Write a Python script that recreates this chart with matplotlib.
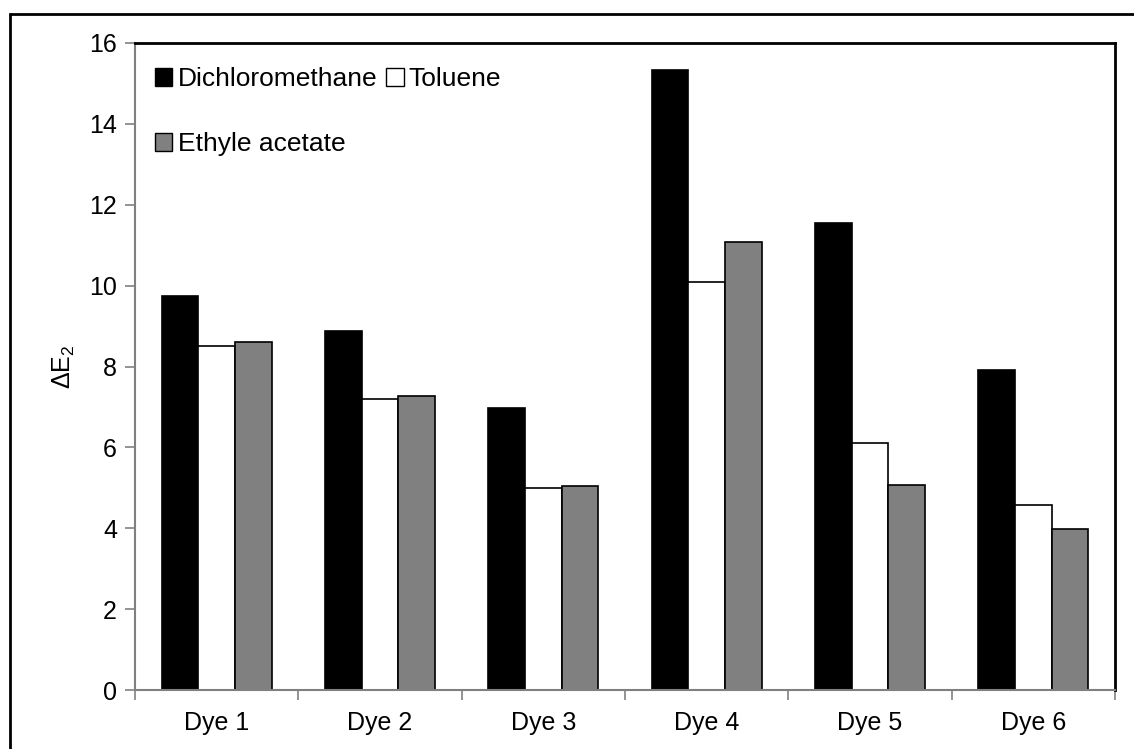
import numpy as np
import matplotlib
matplotlib.use('Agg')
import matplotlib.pyplot as plt
from matplotlib.patches import Rectangle, Patch

plt.rcParams['font.family'] = ['Liberation Sans', 'DejaVu Sans']
plt.rcParams['mathtext.default'] = 'regular'

dyes = ['Dye 1', 'Dye 2', 'Dye 3', 'Dye 4', 'Dye 5', 'Dye 6']
dichloromethane = [9.75, 8.88, 6.98, 15.33, 11.55, 7.92]
toluene = [8.51, 7.2, 5.0, 10.08, 6.1, 4.58]
ethyl_acetate = [8.61, 7.28, 5.05, 11.08, 5.06, 3.98]

fig = plt.figure(figsize=(11.34, 7.49), dpi=100)
ax = fig.add_axes([135 / 1134, 1 - 690 / 749, 980 / 1134, 647 / 749])

# outer frame (only left and top edges fall inside the image)
fig.patches.append(Rectangle((10 / 1134, -10 / 749), 1140 / 1134, 745 / 749,
                             transform=fig.transFigure, fill=False,
                             edgecolor='black', linewidth=2, zorder=0))

x = np.arange(len(dyes))
w = 0.225
ax.bar(x - w, dichloromethane, w, color='black', edgecolor='black', linewidth=1.2)
ax.bar(x, toluene, w, color='white', edgecolor='black', linewidth=1.2)
ax.bar(x + w, ethyl_acetate, w, color='#808080', edgecolor='black', linewidth=1.2)

ax.set_xlim(-0.5, len(dyes) - 0.5)
ax.set_ylim(0, 16)
ax.set_yticks(range(0, 17, 2))
ax.set_xticks(x)
ax.set_xticklabels(dyes)
ax.set_xticks(np.arange(-0.5, len(dyes), 1), minor=True)
ax.tick_params(axis='x', which='major', length=0, labelsize=18, pad=15)
ax.tick_params(axis='x', which='minor', length=7, color='#808080', width=1.2)
ax.tick_params(axis='y', length=7, color='#808080', width=1.2, labelsize=18, pad=6)

ax.spines['left'].set_color('#808080')
ax.spines['bottom'].set_color('#808080')
ax.spines['left'].set_linewidth(1.5)
ax.spines['bottom'].set_linewidth(1.5)
ax.spines['top'].set_linewidth(2)
ax.spines['right'].set_linewidth(2)

ax.set_ylabel('ΔE$_2$', fontsize=18, labelpad=9)

handles = [Patch(facecolor='black', edgecolor='black', label='Dichloromethane'),
           Patch(facecolor='#808080', edgecolor='black', label='Ethyle acetate'),
           Patch(facecolor='white', edgecolor='black', label='Toluene')]
ax.legend(handles=handles, ncol=2, loc='upper left', bbox_to_anchor=(-0.001, 0.995),
          frameon=False, fontsize=19, handlelength=0.65, handleheight=0.65,
          handletextpad=0.2, columnspacing=0.35, labelspacing=1.55, borderaxespad=0.4)

fig.savefig('out.png', dpi=100, facecolor='white')
